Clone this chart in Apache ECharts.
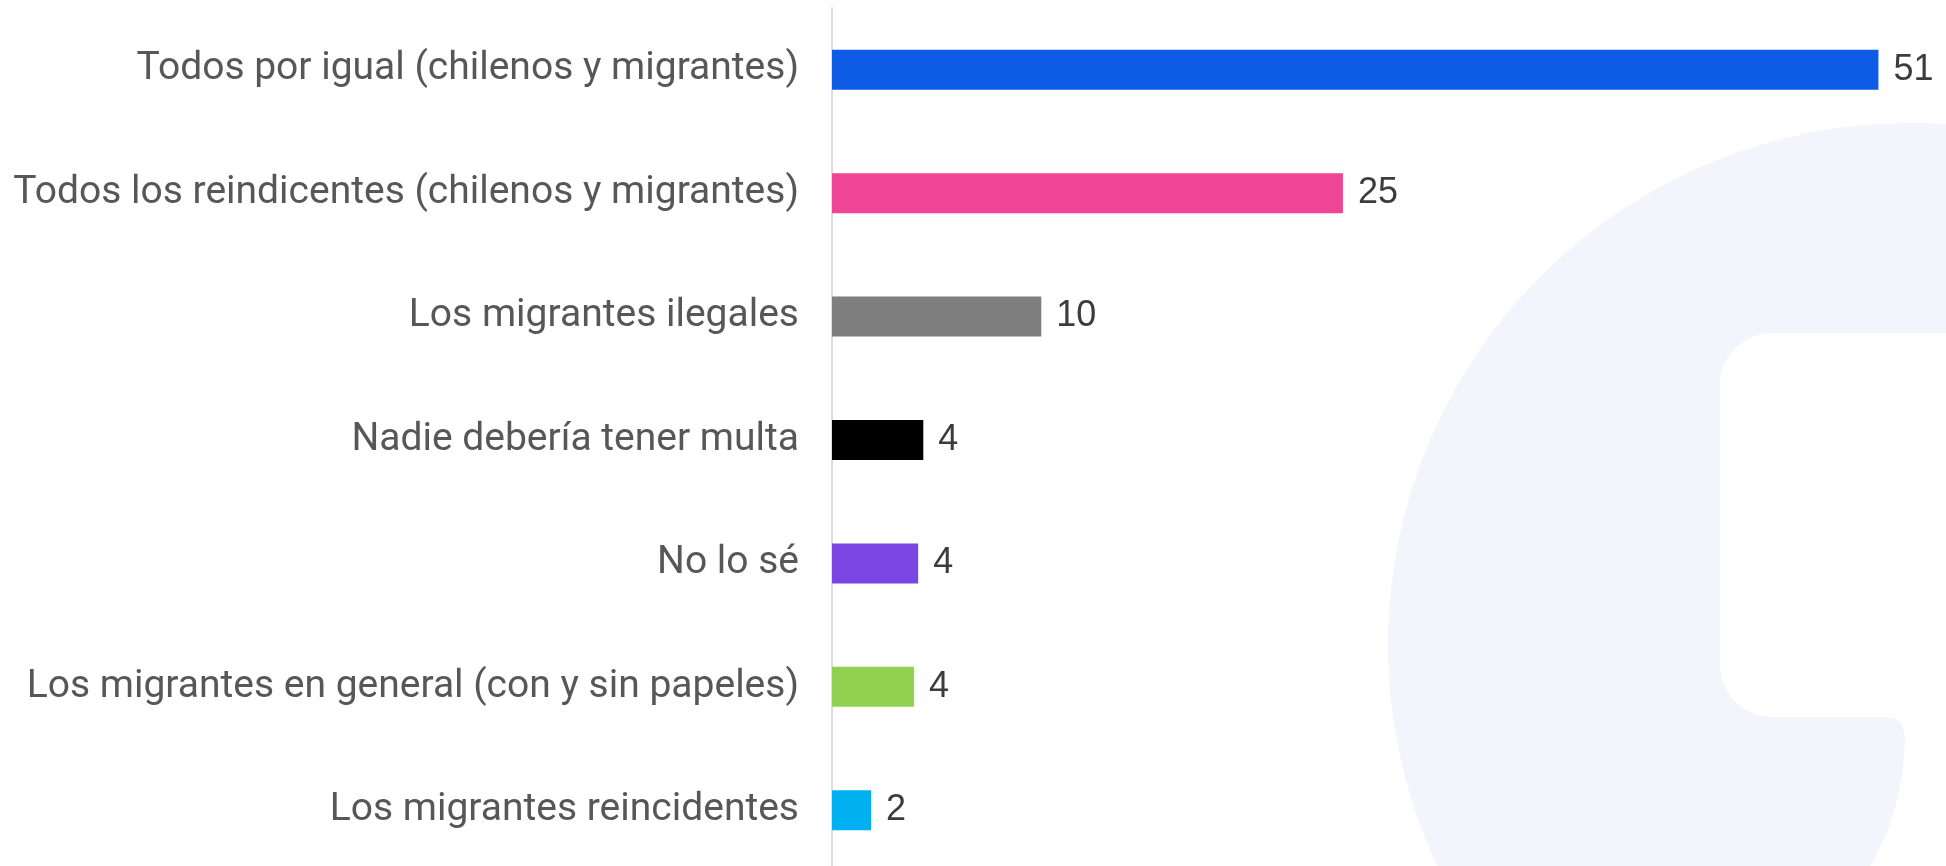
<!DOCTYPE html>
<html>
<head>
<meta charset="utf-8">
<script src="https://cdn.jsdelivr.net/npm/echarts@6/dist/echarts.min.js"></script>
<style>
  html, body { margin: 0; padding: 0; background: #fff; }
  #chart { width: 1946px; height: 866px; }
</style>
</head>
<body>
<div id="chart"></div>
<script>
// answer categories, top to bottom
const categories = [
  "Todos por igual (chilenos y migrantes)",
  "Todos los reindicentes (chilenos y migrantes)",
  "Los migrantes ilegales",
  "Nadie debería tener multa",
  "No lo sé",
  "Los migrantes en general (con y sin papeles)",
  "Los migrantes reincidentes",
];
const values = [51, 24.9, 10.2, 4.45, 4.2, 4.0, 1.9];
const shown = [51, 25, 10, 4, 4, 4, 2];
const colors = ["#0e5be6", "#ee4596", "#7f7f7f", "#000000", "#7a45e3", "#92d050", "#00b0f0"];

const WM = "#f3f4fc"; // watermark tint

const chart = echarts.init(document.getElementById("chart"));

chart.setOption({
  animation: false,
  // the plot runs a few px past the bottom edge, so don't let v6 pull it back in
  grid: { left: 832, right: 6, top: 8, height: 864, outerBoundsMode: "none" },
  // faint logo watermark behind the bars
  graphic: [
    { type: "circle", z: -10, silent: true, shape: { cx: 1910, cy: 645, r: 522 }, style: { fill: WM } },
    { type: "rect", z: -9, silent: true, shape: { x: 1720, y: 333, width: 300, height: 384, r: [52, 0, 0, 52] },
      style: { fill: "#fff" } },
    { type: "polygon", z: -9, silent: true,
      shape: { points: [[1946, 700], [1886, 700], [1886, 717], [1897, 719], [1903, 727], [1905, 740],
        [1903, 770], [1897, 800], [1888, 830], [1876, 856], [1870, 866], [1946, 866]] },
      style: { fill: "#fff" } },
  ],
  xAxis: {
    type: "value", min: 0, max: 54,
    show: false,
  },
  yAxis: {
    type: "category", data: categories, inverse: true,
    axisLine: { show: true, lineStyle: { color: "#dcdcdc", width: 2 } },
    axisTick: { show: false },
    axisLabel: { fontFamily: "Roboto", fontSize: 39, color: "#575757", margin: 33, padding: [5, 0, 0, 0] },
  },
  series: [{
    type: "bar",
    barWidth: 40,
    data: values.map((v, i) => ({ value: v, itemStyle: { color: colors[i] } })),
    label: {
      show: true, position: "right", distance: 15, padding: [5, 0, 0, 0],
      fontFamily: "Liberation Sans", fontSize: 36, color: "#3c3c3c",
      formatter: (p) => String(shown[p.dataIndex]),
    },
  }],
});
</script>
</body>
</html>
